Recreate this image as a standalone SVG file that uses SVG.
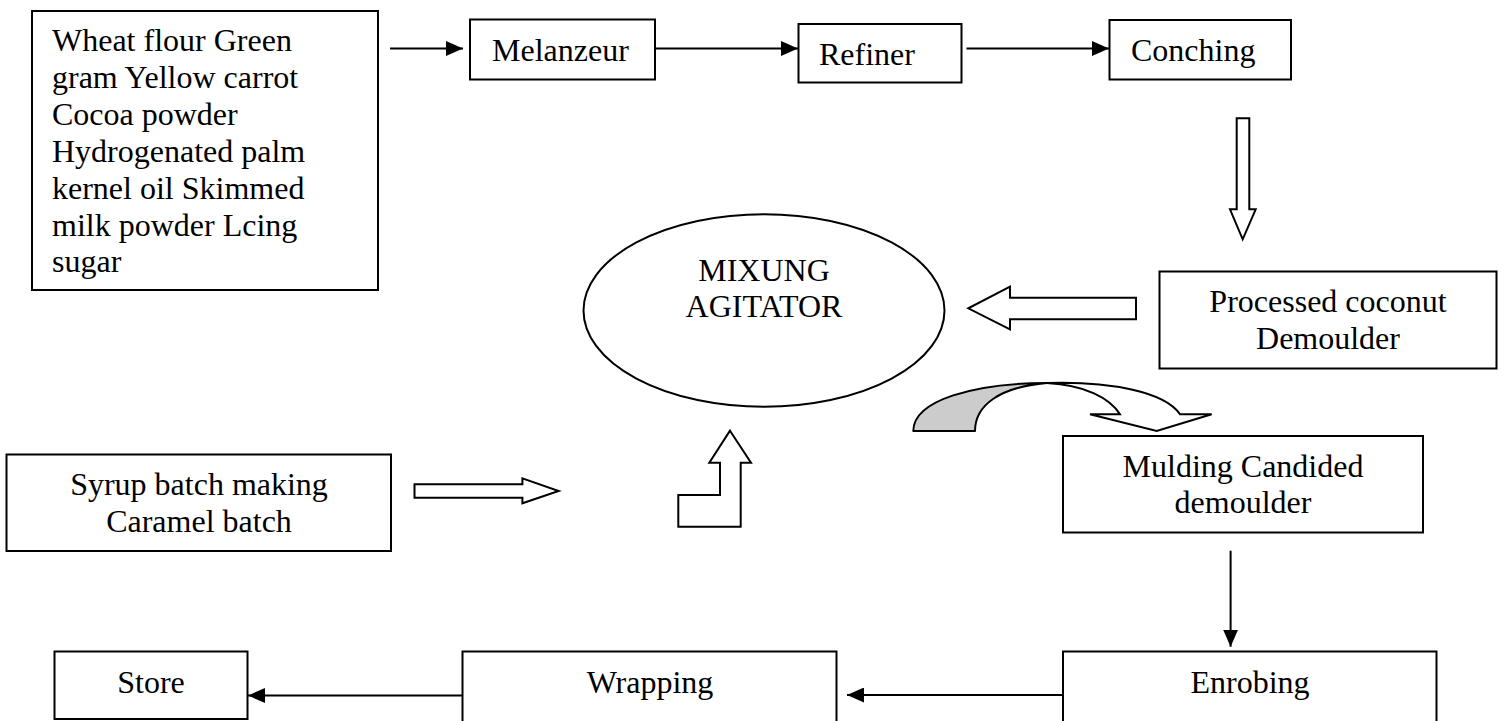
<svg xmlns="http://www.w3.org/2000/svg" width="1502" height="721" viewBox="0 0 1502 721">
<style>
.box{fill:#fff;stroke:#000;stroke-width:2}
text{font-family:'Liberation Serif','Times New Roman','DejaVu Serif',serif;font-size:32px;fill:#000}
.m{text-anchor:middle}
.ln{stroke:#000;stroke-width:2;fill:none}
.hol{fill:#fff;stroke:#000;stroke-width:2;stroke-linejoin:miter}
</style>
<defs>
<marker id="ah" markerUnits="userSpaceOnUse" markerWidth="17" markerHeight="15" refX="17" refY="7.5" orient="auto">
<path d="M0,0 L17,7.5 L0,15 Z" fill="#000"/>
</marker>
</defs>
<rect width="1502" height="721" fill="#fff"/>

<g id="ingredients" font-family="Liberation Serif, serif">
<rect class="box" x="32" y="11" width="346" height="279"/>
<text x="52" y="51">Wheat flour Green</text>
<text x="52" y="88">gram Yellow carrot</text>
<text x="52" y="125">Cocoa powder</text>
<text x="52" y="162">Hydrogenated palm</text>
<text x="52" y="199">kernel oil Skimmed</text>
<text x="52" y="236">milk powder Lcing</text>
<text x="52" y="272">sugar</text>
</g>

<g id="melanzeur">
<rect class="box" x="470" y="19.5" width="185" height="60"/>
<text x="492" y="61">Melanzeur</text>
</g>

<g id="refiner">
<rect class="box" x="798.5" y="24" width="163" height="58.5"/>
<text x="819" y="65">Refiner</text>
</g>

<g id="conching">
<rect class="box" x="1109.5" y="20" width="181.5" height="59.5"/>
<text x="1131" y="61">Conching</text>
</g>

<g id="mixing">
<ellipse cx="764" cy="310.5" rx="180.5" ry="96.3" fill="#fff" stroke="#000" stroke-width="2"/>
<text class="m" x="764" y="281">MIXUNG</text>
<text class="m" x="764" y="317">AGITATOR</text>
</g>

<g id="processed">
<rect class="box" x="1159.5" y="271.5" width="337" height="97"/>
<text class="m" x="1328" y="312">Processed coconut</text>
<text class="m" x="1328" y="348.5">Demoulder</text>
</g>

<g id="syrup">
<rect class="box" x="6.5" y="454.5" width="384.5" height="96.5"/>
<text class="m" x="199" y="495">Syrup batch making</text>
<text class="m" x="199" y="532">Caramel batch</text>
</g>

<g id="mulding">
<rect class="box" x="1063" y="436" width="360" height="96.5"/>
<text class="m" x="1243" y="477">Mulding Candided</text>
<text class="m" x="1243" y="512.5">demoulder</text>
</g>

<g id="enrobing">
<rect class="box" x="1063" y="651.5" width="373.5" height="80"/>
<text class="m" x="1250" y="693">Enrobing</text>
</g>

<g id="wrapping">
<rect class="box" x="462.5" y="651.5" width="374" height="80"/>
<text class="m" x="650" y="693">Wrapping</text>
</g>

<g id="store">
<rect class="box" x="54.5" y="651.5" width="193" height="67.5"/>
<text class="m" x="151" y="693">Store</text>
</g>

<g id="connectors">
<line class="ln" x1="390" y1="48.5" x2="463" y2="48.5" marker-end="url(#ah)"/>
<line class="ln" x1="655" y1="48.5" x2="798" y2="48.5" marker-end="url(#ah)"/>
<line class="ln" x1="966.5" y1="48.5" x2="1109" y2="48.5" marker-end="url(#ah)"/>
<polygon class="hol" points="1236.7,118.3 1249.3,118.3 1249.3,209.3 1255.7,209.3 1242.7,239.3 1230,209.3 1236.7,209.3"/>
<polygon class="hol" points="1136,297.7 1010,297.7 1010,286.7 968.3,308.3 1010,329.3 1010,319.3 1136,319.3"/>
<polygon class="hol" points="414.5,484.3 522.4,484.3 522.4,478.3 558.7,491 522.4,503.3 522.4,497.7 414.5,497.7"/>
<polygon class="hol" points="730,430.7 751,462.7 740.7,462.7 740.7,526.7 678.3,526.7 678.3,495 720,495 720,462.7 709.3,462.7"/>
<path d="M913.3,431 C913.3,400 975,383 1047,383 C1000,387 975,405 975,431 Z" fill="#cccccc" stroke="#000" stroke-width="2" stroke-linejoin="round"/>
<path d="M1047,383 C1110,381 1165,392 1180,414.3 L1211.7,414.3 L1156.7,431 L1090,414.3 L1120,414.3 C1110,398 1085,385 1047,383 Z" fill="#fff" stroke="#000" stroke-width="2" stroke-linejoin="miter"/>
<line class="ln" x1="1230.6" y1="550.7" x2="1230.6" y2="646.7" marker-end="url(#ah)"/>
<line class="ln" x1="1063" y1="695" x2="847" y2="695" marker-end="url(#ah)"/>
<line class="ln" x1="462.5" y1="695.5" x2="248" y2="695.5" marker-end="url(#ah)"/>
</g>
</svg>
